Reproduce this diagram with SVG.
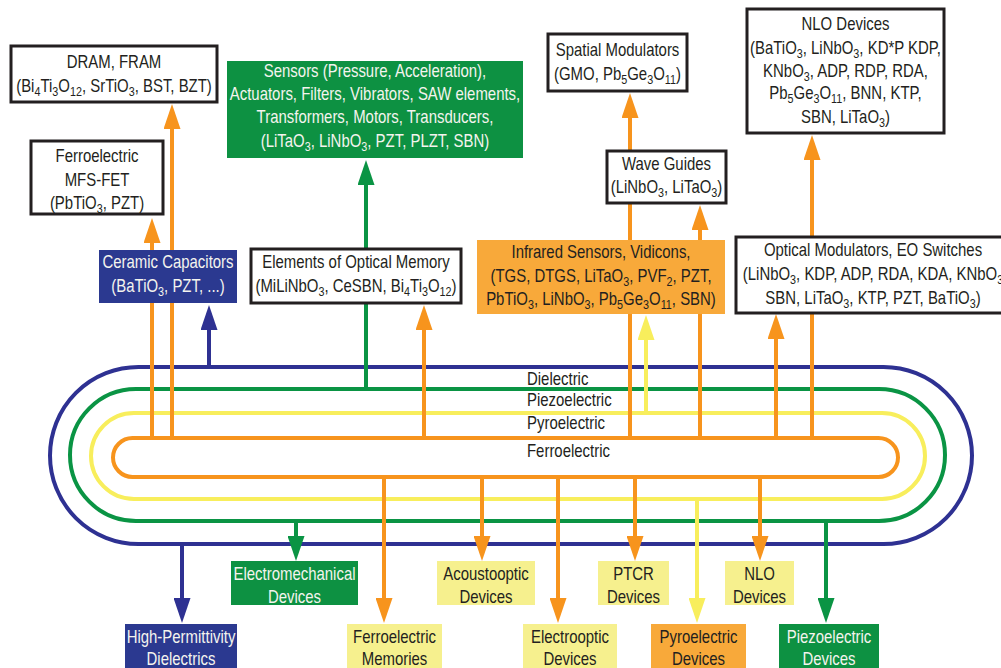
<svg xmlns="http://www.w3.org/2000/svg" width="1001" height="668" viewBox="0 0 1001 668">
<style>
text{font-family:"Liberation Sans",Arial,sans-serif;font-size:18px;fill:#231f20;text-anchor:middle}
text.w{fill:#f4f4ee}
text.l{text-anchor:start}
.s{font-size:13px;baseline-shift:-4.5px}
.bx{fill:#fff;stroke:#231f20;stroke-width:3}
.gr{fill:#0d9142}
.bl{fill:#2b3990}
.ly{fill:#f6f08e}
.or{fill:#f8a93a}
.loop{fill:none;stroke-width:4}
.c{fill:none;stroke-width:4}
.co{stroke:#f7941d}.cb{stroke:#2e3192}.cg{stroke:#0a9444}.cy{stroke:#f8ee5c}
</style>
<defs>
<marker id="ao" markerUnits="userSpaceOnUse" markerWidth="25" markerHeight="17" viewBox="0 0 25 17" refX="1" refY="8.5" orient="auto"><path d="M0,0 L25,8.5 L0,17z" fill="#f7941d"/></marker>
<marker id="ab" markerUnits="userSpaceOnUse" markerWidth="25" markerHeight="17" viewBox="0 0 25 17" refX="1" refY="8.5" orient="auto"><path d="M0,0 L25,8.5 L0,17z" fill="#2e3192"/></marker>
<marker id="ag" markerUnits="userSpaceOnUse" markerWidth="25" markerHeight="17" viewBox="0 0 25 17" refX="1" refY="8.5" orient="auto"><path d="M0,0 L25,8.5 L0,17z" fill="#0a9444"/></marker>
<marker id="ay" markerUnits="userSpaceOnUse" markerWidth="25" markerHeight="17" viewBox="0 0 25 17" refX="1" refY="8.5" orient="auto"><path d="M0,0 L25,8.5 L0,17z" fill="#f8ee5c"/></marker>
</defs>
<rect width="1001" height="668" fill="#fff"/>
<g id="loops">
<rect class="loop" x="50" y="367" width="922" height="177" rx="88.5" stroke="#2e3192"/>
<rect class="loop" x="70" y="389" width="875" height="132" rx="66" stroke="#0a9444"/>
<rect class="loop" x="91" y="413" width="834" height="86" rx="43" stroke="#f8ee5c"/>
<rect class="loop" x="113" y="438" width="785" height="39" rx="19.5" stroke="#f7941d"/>
<g transform="matrix(.83 0 0 1 527 0)">
<text class="l" x="0" y="385">Dielectric</text>
<text class="l" x="0" y="406">Piezoelectric</text>
<text class="l" x="0" y="429">Pyroelectric</text>
<text class="l" x="0" y="457">Ferroelectric</text>
</g>
</g>
<g id="connectors">
<line class="c co" x1="152" y1="438" x2="152" y2="242" marker-end="url(#ao)"/>
<line class="c co" x1="172" y1="438" x2="172" y2="128" marker-end="url(#ao)"/>
<line class="c cb" x1="209" y1="367" x2="209" y2="329" marker-end="url(#ab)"/>
<line class="c cg" x1="366" y1="389" x2="366" y2="184" marker-end="url(#ag)"/>
<line class="c co" x1="424" y1="438" x2="424" y2="329" marker-end="url(#ao)"/>
<line class="c co" x1="630" y1="438" x2="630" y2="117" marker-end="url(#ao)"/>
<line class="c cy" x1="646" y1="413" x2="646" y2="339" marker-end="url(#ay)"/>
<line class="c co" x1="700" y1="438" x2="700" y2="229" marker-end="url(#ao)"/>
<line class="c co" x1="776" y1="438" x2="776" y2="338" marker-end="url(#ao)"/>
<line class="c co" x1="812" y1="438" x2="812" y2="159" marker-end="url(#ao)"/>
<line class="c cb" x1="182" y1="544" x2="182" y2="599" marker-end="url(#ab)"/>
<line class="c cg" x1="296" y1="521" x2="296" y2="537" marker-end="url(#ag)"/>
<line class="c co" x1="384" y1="477" x2="384" y2="599" marker-end="url(#ao)"/>
<line class="c co" x1="482" y1="477" x2="482" y2="537" marker-end="url(#ao)"/>
<line class="c co" x1="558" y1="477" x2="558" y2="599" marker-end="url(#ao)"/>
<line class="c co" x1="635" y1="477" x2="635" y2="537" marker-end="url(#ao)"/>
<line class="c cy" x1="697" y1="499" x2="697" y2="599" marker-end="url(#ay)"/>
<line class="c co" x1="760" y1="477" x2="760" y2="537" marker-end="url(#ao)"/>
<line class="c cg" x1="826" y1="521" x2="826" y2="599" marker-end="url(#ag)"/>
</g>
<g id="dram"><rect class="bx" x="11" y="46" width="206" height="56"/>
<g transform="matrix(.83 0 0 1 114 0)">
<text x="0" y="68">DRAM, FRAM</text>
<text x="0" y="92">(Bi<tspan class="s">4</tspan>Ti<tspan class="s">3</tspan>O<tspan class="s">12</tspan>, SrTiO<tspan class="s">3</tspan>, BST, BZT)</text></g></g>
<g id="mfsfet"><rect class="bx" x="31" y="141" width="132" height="73"/>
<g transform="matrix(.83 0 0 1 97 0)">
<text x="0" y="162">Ferroelectric</text>
<text x="0" y="186">MFS-FET</text>
<text x="0" y="209">(PbTiO<tspan class="s">3</tspan>, PZT)</text></g></g>
<g id="sensors"><rect class="gr" x="227" y="61" width="296" height="97"/>
<g transform="matrix(.83 0 0 1 375 0)">
<text class="w" x="0" y="77">Sensors (Pressure, Acceleration),</text>
<text class="w" x="0" y="100">Actuators, Filters, Vibrators, SAW elements,</text>
<text class="w" x="0" y="123">Transformers, Motors, Transducers,</text>
<text class="w" x="0" y="147">(LiTaO<tspan class="s">3</tspan>, LiNbO<tspan class="s">3</tspan>, PZT, PLZT, SBN)</text></g></g>
<g id="spatial"><rect class="bx" x="548" y="34" width="139" height="57"/>
<g transform="matrix(.83 0 0 1 617.5 0)">
<text x="0" y="56">Spatial Modulators</text>
<text x="0" y="80">(GMO, Pb<tspan class="s">5</tspan>Ge<tspan class="s">3</tspan>O<tspan class="s">11</tspan>)</text></g></g>
<g id="waveguides"><rect class="bx" x="607" y="151" width="119" height="52"/>
<g transform="matrix(.83 0 0 1 666.5 0)">
<text x="0" y="170">Wave Guides</text>
<text x="0" y="193">(LiNbO<tspan class="s">3</tspan>, LiTaO<tspan class="s">3</tspan>)</text></g></g>
<g id="nlo-top"><rect class="bx" x="747" y="9" width="197" height="124"/>
<g transform="matrix(.83 0 0 1 845.5 0)">
<text x="0" y="30">NLO Devices</text>
<text x="0" y="54">(BaTiO<tspan class="s">3</tspan>, LiNbO<tspan class="s">3</tspan>, KD*P KDP,</text>
<text x="0" y="77">KNbO<tspan class="s">3</tspan>, ADP, RDP, RDA,</text>
<text x="0" y="99">Pb<tspan class="s">5</tspan>Ge<tspan class="s">3</tspan>O<tspan class="s">11</tspan>, BNN, KTP,</text>
<text x="0" y="123">SBN, LiTaO<tspan class="s">3</tspan>)</text></g></g>
<g id="ceramic"><rect class="bl" x="99" y="250" width="138" height="53"/>
<g transform="matrix(.83 0 0 1 168 0)">
<text class="w" x="0" y="268">Ceramic Capacitors</text>
<text class="w" x="0" y="292">(BaTiO<tspan class="s">3</tspan>, PZT, ...)</text></g></g>
<g id="optmem"><rect class="bx" x="251" y="249" width="210" height="54"/>
<g transform="matrix(.83 0 0 1 356 0)">
<text x="0" y="268">Elements of Optical Memory</text>
<text x="0" y="292">(MiLiNbO<tspan class="s">3</tspan>, CeSBN, Bi<tspan class="s">4</tspan>Ti<tspan class="s">3</tspan>O<tspan class="s">12</tspan>)</text></g></g>
<g id="infrared"><rect class="or" x="477" y="240" width="248" height="74"/>
<g transform="matrix(.83 0 0 1 601 0)">
<text x="0" y="258">Infrared Sensors, Vidicons,</text>
<text x="0" y="282">(TGS, DTGS, LiTaO<tspan class="s">3</tspan>, PVF<tspan class="s">2</tspan>, PZT,</text>
<text x="0" y="305">PbTiO<tspan class="s">3</tspan>, LiNbO<tspan class="s">3</tspan>, Pb<tspan class="s">5</tspan>Ge<tspan class="s">3</tspan>O<tspan class="s">11</tspan>, SBN)</text></g></g>
<g id="optmod"><rect class="bx" x="736" y="237" width="276" height="76"/>
<g transform="matrix(.83 0 0 1 873 0)">
<text x="0" y="256">Optical Modulators, EO Switches</text>
<text x="0" y="280">(LiNbO<tspan class="s">3</tspan>, KDP, ADP, RDA, KDA, KNbO<tspan class="s">3</tspan></text>
<text x="0" y="304">SBN, LiTaO<tspan class="s">3</tspan>, KTP, PZT, BaTiO<tspan class="s">3</tspan>)</text></g></g>
<g id="electromech"><rect class="gr" x="231" y="561" width="127" height="44"/>
<g transform="matrix(.83 0 0 1 294.5 0)">
<text class="w" x="0" y="580">Electromechanical</text>
<text class="w" x="0" y="603">Devices</text></g></g>
<g id="highperm"><rect class="bl" x="125" y="624" width="112" height="50"/>
<g transform="matrix(.83 0 0 1 181 0)">
<text class="w" x="0" y="643">High-Permittivity</text>
<text class="w" x="0" y="665">Dielectrics</text></g></g>
<g id="femem"><rect class="ly" x="347" y="624" width="95" height="50"/>
<g transform="matrix(.83 0 0 1 394.5 0)">
<text x="0" y="643">Ferroelectric</text>
<text x="0" y="665">Memories</text></g></g>
<g id="acousto"><rect class="ly" x="437" y="561" width="98" height="44"/>
<g transform="matrix(.83 0 0 1 486 0)">
<text x="0" y="580">Acoustooptic</text>
<text x="0" y="603">Devices</text></g></g>
<g id="electroopt"><rect class="ly" x="523" y="624" width="94" height="50"/>
<g transform="matrix(.83 0 0 1 570 0)">
<text x="0" y="643">Electrooptic</text>
<text x="0" y="665">Devices</text></g></g>
<g id="ptcr"><rect class="ly" x="598" y="561" width="71" height="44"/>
<g transform="matrix(.83 0 0 1 633.5 0)">
<text x="0" y="580">PTCR</text>
<text x="0" y="603">Devices</text></g></g>
<g id="pyro"><rect class="or" x="651" y="624" width="95" height="50"/>
<g transform="matrix(.83 0 0 1 698.5 0)">
<text x="0" y="643">Pyroelectric</text>
<text x="0" y="665">Devices</text></g></g>
<g id="nlo-bottom"><rect class="ly" x="725" y="561" width="69" height="44"/>
<g transform="matrix(.83 0 0 1 759.5 0)">
<text x="0" y="580">NLO</text>
<text x="0" y="603">Devices</text></g></g>
<g id="piezo"><rect class="gr" x="779" y="624" width="100" height="50"/>
<g transform="matrix(.83 0 0 1 829 0)">
<text class="w" x="0" y="643">Piezoelectric</text>
<text class="w" x="0" y="665">Devices</text></g></g>
</svg>
